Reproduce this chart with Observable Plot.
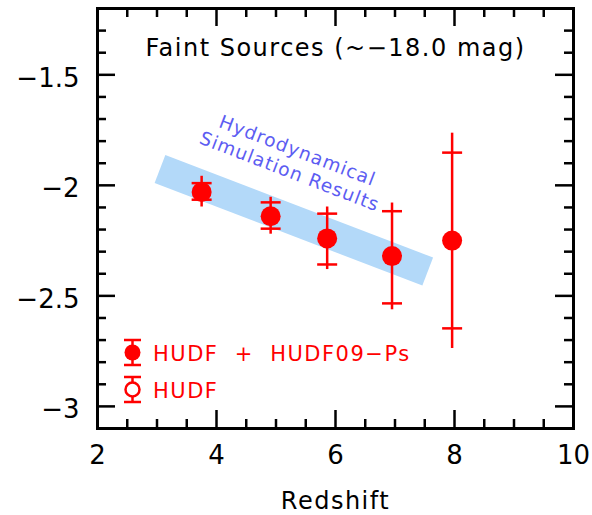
<!DOCTYPE html>
<html><head><meta charset="utf-8">
<script src="https://cdn.jsdelivr.net/npm/d3@7"></script>
<script src="https://cdn.jsdelivr.net/npm/@observablehq/plot@0.6"></script>
<style>
html,body{margin:0;padding:0;background:#fff;}
#wrap{position:relative;width:592px;height:515px;}
#legend{position:absolute;left:0;top:0;pointer-events:none;}
</style></head><body><div id="wrap"></div>
<script>
// ---- data ----
const redshift = [3.75, 4.91, 5.86, 6.95, 7.96];
const logValue = [-2.03, -2.14, -2.24, -2.32, -2.25];
const capUpper = [-1.99, -2.077, -2.128, -2.117, -1.852];
const capLower = [-2.065, -2.196, -2.358, -2.534, -2.647];
const barUpper = [-1.959, -2.054, -2.098, -2.08, -1.764];
const barLower = [-2.098, -2.221, -2.381, -2.563, -2.738];
const simRedshift = [3.05, 7.55];
const simValue = [-1.926, -2.39];
const xTicks = [2, 4, 6, 8, 10];
const xTickLabels = ["2", "4", "6", "8", "10"];
const yTicks = [-3, -2.5, -2, -1.5];
const yTickLabels = ["−3", "−2.5", "−2", "−1.5"];
const titleText = "Faint Sources (~−18.0 mag)";
const simLabel = "Hydrodynamical\nSimulation Results";
const xLabel = "Redshift";
const legendLabels = ["HUDF  +  HUDF09−Ps", "HUDF"];

// ---- build tables ----
const points = redshift.map((z, i) => ({z, v: logValue[i], cu: capUpper[i], cl: capLower[i], bu: barUpper[i], bl: barLower[i]}));
const band = simRedshift.map((z, i) => ({z, v: simValue[i]}));
const bandMid = [{z: d3.mean(simRedshift), v: d3.mean(simValue), text: simLabel}];
const xMinor = d3.range(4, 20).map(v => v / 2).filter(v => !xTicks.includes(v));
const yMinor = d3.range(-30, -12).map(v => v / 10).filter(v => !yTicks.some(t => Math.abs(t - v) < 1e-9));

const W = 592, H = 515, mL = 97, mR = 19, mT = 8, mB = 87;
const fH = H - mT - mB, fW = W - mL - mR;
const majL = 18, minL = 9, tW = 2.5;
const FONT = "DejaVu Sans";

const hbar = {draw(ctx, size) { const r = Math.sqrt(size / Math.PI); ctx.moveTo(-r, 0); ctx.lineTo(r, 0); }};

const tickMarks = [
  Plot.tickX(xTicks, {x: d => d, insetTop: fH - majL, stroke: "black", strokeWidth: tW}),
  Plot.tickX(xTicks, {x: d => d, insetBottom: fH - majL, stroke: "black", strokeWidth: tW}),
  Plot.tickX(xMinor, {x: d => d, insetTop: fH - minL, stroke: "black", strokeWidth: tW}),
  Plot.tickX(xMinor, {x: d => d, insetBottom: fH - minL, stroke: "black", strokeWidth: tW}),
  Plot.tickY(yTicks, {y: d => d, insetRight: fW - majL, stroke: "black", strokeWidth: tW}),
  Plot.tickY(yTicks, {y: d => d, insetLeft: fW - majL, stroke: "black", strokeWidth: tW}),
  Plot.tickY(yMinor, {y: d => d, insetRight: fW - minL, stroke: "black", strokeWidth: tW}),
  Plot.tickY(yMinor, {y: d => d, insetLeft: fW - minL, stroke: "black", strokeWidth: tW})
];

const chart = Plot.plot({
  width: W, height: H,
  marginLeft: mL, marginRight: mR, marginTop: mT, marginBottom: mB,
  x: {domain: [2, 10]},
  y: {domain: [-3.1, -1.2]},
  style: {fontFamily: FONT, background: "white", color: "black"},
  marks: [
    Plot.line(band, {x: "z", y: "v", stroke: "#b3d9f9", strokeWidth: 30, strokeLinecap: "butt"}),
    Plot.text(bandMid, {x: "z", y: "v", text: "text", dy: -60, rotate: 21, fill: "#5c5cf2", fontSize: 18.5, lineHeight: 1.2, textAnchor: "middle", lineAnchor: "middle"}),
    Plot.ruleX(points, {x: "z", y1: "bl", y2: "bu", stroke: "red", strokeWidth: 2.5}),
    Plot.dot(points, {x: "z", y: "cu", symbol: hbar, r: 10, stroke: "red", strokeWidth: 2.5}),
    Plot.dot(points, {x: "z", y: "cl", symbol: hbar, r: 10, stroke: "red", strokeWidth: 2.5}),
    Plot.dot(points, {x: "z", y: "v", r: 10, fill: "red", stroke: null}),
    ...tickMarks,
    Plot.frame({stroke: "black", strokeWidth: 3}),
    Plot.axisX(xTicks, {tickSize: 0, tickPadding: 17, fontSize: 26, tickFormat: d => xTickLabels[xTicks.indexOf(d)], label: null}),
    Plot.axisY(yTicks, {tickSize: 0, tickPadding: 18, fontSize: 26, dy: 3.5, tickFormat: d => yTickLabels[yTicks.indexOf(d)], label: null}),
    Plot.text([titleText], {frameAnchor: "top", dy: 30, lineAnchor: "top", fontSize: 24, fill: "black"}),
    Plot.text([xLabel], {frameAnchor: "bottom", dy: 63, lineAnchor: "top", fontSize: 24, fill: "black"})
  ]
});

d3.select(chart).selectAll("text").each(function() {
  const t = this.textContent;
  if (t === titleText || t === xLabel) d3.select(this).attr("letter-spacing", 1.5);
});
d3.select(chart).selectAll("text tspan, text").filter(function() { return this.textContent === "Hydrodynamical" || this.textContent === "Simulation Results"; }).attr("letter-spacing", 1.1);

const wrap = document.getElementById("wrap");
wrap.appendChild(chart);

// ---- legend ----
const leg = d3.select(wrap).append("svg").attr("id", "legend").attr("width", W).attr("height", H);
const rows = legendLabels.map((text, i) => ({text, filled: i === 0, cy: 352.5 + i * 37}));
const ix = 132.5;
rows.forEach(r => {
  const g = leg.append("g");
  g.append("line").attr("x1", ix).attr("x2", ix).attr("y1", r.cy - 12.5).attr("y2", r.cy + 12.5).attr("stroke", "red").attr("stroke-width", 2.5);
  [-12.5, 12.5].forEach(o => g.append("line").attr("x1", ix - 8.5).attr("x2", ix + 8.5).attr("y1", r.cy + o).attr("y2", r.cy + o).attr("stroke", "red").attr("stroke-width", 2.5));
  g.append("circle").attr("cx", ix).attr("cy", r.cy).attr("r", r.filled ? 8 : 7).attr("fill", r.filled ? "red" : "white").attr("stroke", "red").attr("stroke-width", r.filled ? 0 : 2.5);
  g.append("text").attr("x", 153).attr("y", r.cy + 8).attr("fill", "red").attr("font-family", FONT).attr("font-size", 21).attr("letter-spacing", 1.5).style("white-space", "pre").text(r.text);
});
</script></body></html>
